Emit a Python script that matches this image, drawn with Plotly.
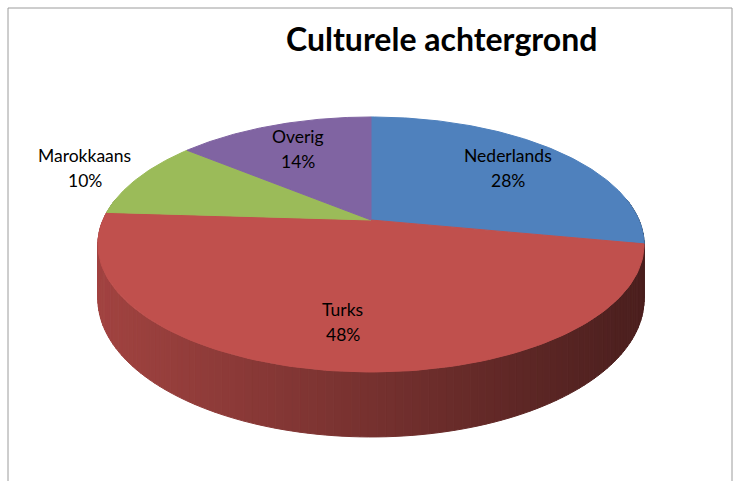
import numpy as np
import plotly.graph_objects as go

categories = ["Nederlands", "Turks", "Marokkaans", "Overig"]
percentages = [28, 48, 10, 14]
colors = ["#4F81BD", "#C0504D", "#9BBB59", "#8064A2"]
label_inside = [True, True, False, True]

TITLE = "Culturele achtergrond"

# canvas and 3D view geometry, in pixels
W, H = 739, 481
CX, CY = 371, 220
RX, RY = 268, 122.8
PERSP = 0.192
DEPTH = 52.5


def project(theta, r=1.0):
    # theta in degrees, clockwise from 12 o'clock; far side shrinks (perspective)
    t = np.radians(theta)
    s = 1.0 / (1.0 + PERSP * r * np.cos(t))
    return CX + RX * r * np.sin(t) * s, CY - RY * r * np.cos(t) * s, s


def shade(hex_color, x):
    # side wall gets darker from left to right
    f = 0.84 - (x - 100) / 545 * 0.45
    f = min(max(f, 0.3), 0.9)
    rgb = [int(hex_color[i:i + 2], 16) for i in (1, 3, 5)]
    return "rgb({},{},{})".format(*[int(c * f) for c in rgb])


total = sum(percentages)
bounds = np.cumsum([0] + percentages) / total * 360

fig = go.Figure()

# side wall (front half only)
for i, col in enumerate(colors):
    a0, a1 = max(bounds[i], 80), min(bounds[i + 1], 280)
    if a1 <= a0:
        continue
    steps = np.linspace(a0, a1, max(2, int((a1 - a0) / 1.5) + 1))
    for t1, t2 in zip(steps[:-1], steps[1:]):
        x1, y1, s1 = project(t1)
        x2, y2, s2 = project(t2)
        c = shade(col, (x1 + x2) / 2)
        fig.add_trace(go.Scatter(
            x=[x1, x2, x2, x1, x1],
            y=[y1, y2, y2 + DEPTH * s2, y1 + DEPTH * s1, y1],
            mode="lines", fill="toself", fillcolor=c,
            line=dict(color=c, width=1), hoverinfo="skip"))

# top face
for i, col in enumerate(colors):
    th = np.linspace(bounds[i], bounds[i + 1], 120)
    xs, ys, _ = project(th)
    fig.add_trace(go.Scatter(
        x=np.concatenate([[CX], xs, [CX]]),
        y=np.concatenate([[CY], ys, [CY]]),
        mode="lines", fill="toself", fillcolor=col,
        line=dict(color=col, width=1), hoverinfo="skip"))

# data labels
for i, name in enumerate(categories):
    mid = (bounds[i] + bounds[i + 1]) / 2
    lx, ly, _ = project(mid, 0.72 if label_inside[i] else 1.25)
    for txt, dy in ((name, 12.5), (f"{percentages[i]}%", -12.5)):
        fig.add_annotation(x=lx, y=ly, text=txt, showarrow=False, yshift=dy,
                           font=dict(family="Lato, sans-serif", size=17.5, color="black"))

fig.add_annotation(x=441, y=38, text=f"<b>{TITLE}</b>", showarrow=False,
                   font=dict(family="Liberation Sans Narrow, Lato, sans-serif",
                             size=32, color="black"))

fig.add_shape(type="rect", x0=8, y0=8, x1=732, y1=500,
              line=dict(color="#9C9C9C", width=1), layer="below")

fig.update_layout(
    width=W, height=H, autosize=False,
    margin=dict(l=0, r=0, t=0, b=0),
    showlegend=False,
    paper_bgcolor="white", plot_bgcolor="white",
    xaxis=dict(range=[0, W], visible=False, fixedrange=True),
    yaxis=dict(range=[H, 0], visible=False, fixedrange=True),
)

fig.write_html("out.html", config={"displayModeBar": False},
               post_script="document.body.style.margin='0';document.body.style.overflow='hidden';")
